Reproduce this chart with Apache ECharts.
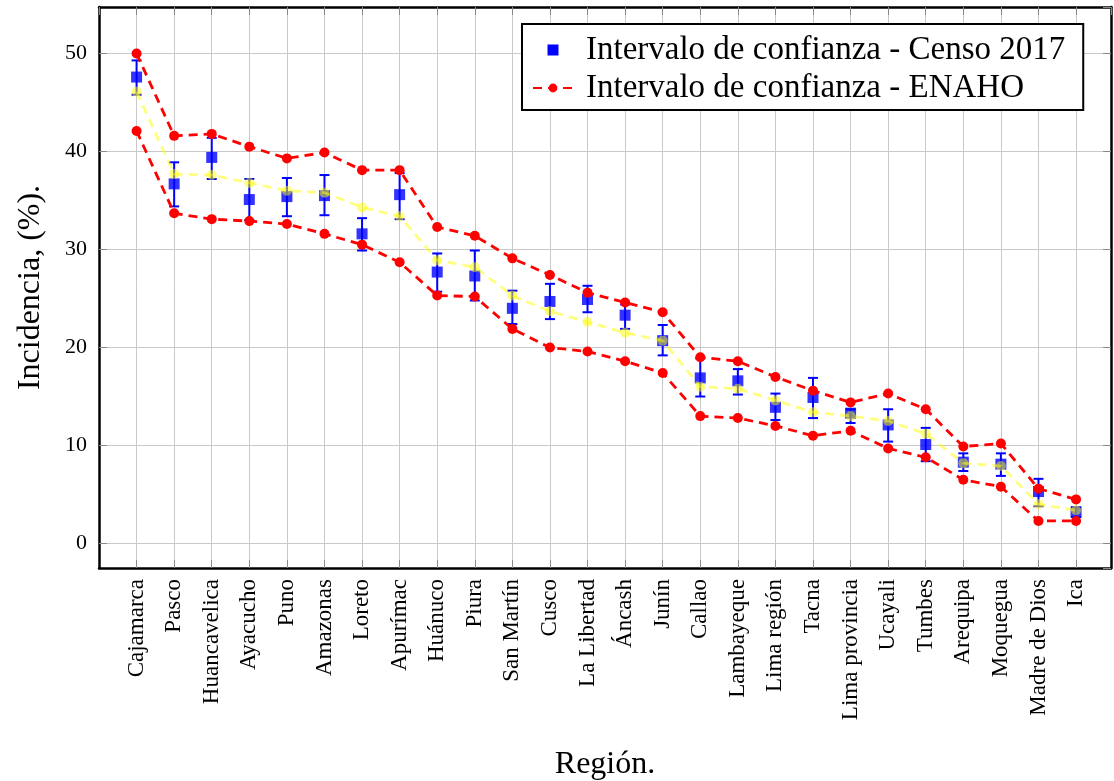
<!DOCTYPE html>
<html>
<head>
<meta charset="utf-8">
<script src="https://cdn.jsdelivr.net/npm/echarts@6/dist/echarts.min.js"></script>
<style>
  html, body { margin: 0; padding: 0; background: #fff; overflow: hidden; }
  #chart { width: 1114px; height: 781px; }
</style>
</head>
<body>
<div id="chart"></div>
<script>
// Regions, ordered by incidence
const categories = ['Cajamarca', 'Pasco', 'Huancavelica', 'Ayacucho', 'Puno', 'Amazonas', 'Loreto',
  'Apurímac', 'Huánuco', 'Piura', 'San Martín', 'Cusco', 'La Libertad', 'Áncash', 'Junín', 'Callao',
  'Lambayeque', 'Lima región', 'Tacna', 'Lima provincia', 'Ucayali', 'Tumbes', 'Arequipa', 'Moquegua',
  'Madre de Dios', 'Ica'];

// Censo 2017: estimate and confidence interval bounds (%)
const censoEst  = [47.6, 36.7, 39.4, 35.1, 35.4, 35.5, 31.6, 35.6, 27.7, 27.3, 24.0, 24.7, 24.9, 23.3, 20.7, 16.9, 16.6, 13.9, 14.9, 13.3, 12.1, 10.1, 8.3, 8.1, 5.3, 3.2];
const censoLow  = [45.8, 34.4, 37.2, 33.0, 33.4, 33.5, 29.9, 33.1, 25.7, 24.8, 22.4, 22.9, 23.6, 21.9, 19.2, 15.0, 15.2, 12.6, 12.8, 12.3, 10.4, 8.4, 7.4, 6.9, 3.8, 2.7];
const censoHigh = [49.3, 38.9, 41.4, 37.2, 37.3, 37.6, 33.2, 37.8, 29.6, 29.9, 25.8, 26.5, 26.3, 24.4, 22.3, 18.9, 17.8, 15.3, 16.9, 13.7, 13.7, 11.8, 9.2, 9.2, 6.6, 3.7];

// ENAHO: point estimate and confidence interval bounds (%)
const enahoEst  = [46.1, 37.7, 37.6, 36.8, 36.0, 35.8, 34.3, 33.4, 28.9, 28.2, 25.3, 23.7, 22.6, 21.5, 20.7, 16.0, 15.8, 14.6, 13.4, 13.0, 12.5, 11.2, 8.2, 7.9, 4.0, 3.4];
const enahoHigh = [50.0, 41.6, 41.8, 40.5, 39.3, 39.9, 38.1, 38.1, 32.3, 31.4, 29.1, 27.4, 25.6, 24.6, 23.6, 19.0, 18.6, 17.0, 15.6, 14.4, 15.3, 13.7, 9.9, 10.2, 5.6, 4.5];
const enahoLow  = [42.1, 33.7, 33.1, 32.9, 32.6, 31.6, 30.5, 28.7, 25.3, 25.2, 21.9, 20.0, 19.6, 18.6, 17.4, 13.0, 12.8, 12.0, 11.0, 11.5, 9.7, 8.8, 6.5, 5.8, 2.3, 2.3];

const NAME_CENSO = 'Intervalo de confianza - Censo 2017';
const NAME_ENAHO = 'Intervalo de confianza - ENAHO';
const FONT = 'Liberation Serif';

const pairs = arr => arr.map((v, i) => [i, v]);
const errData = censoLow.map((lo, i) => [i, lo, censoHigh[i]]);

const chart = echarts.init(document.getElementById('chart'), null, { renderer: 'canvas' });

const tickStyle = { show: true, inside: true, length: 8, lineStyle: { color: '#8a8a8a', width: 1 } };
const frameLine = { show: true, onZero: false, lineStyle: { color: '#000', width: 2.5 } };
const gridLine = { show: true, showMinLine: false, showMaxLine: false, lineStyle: { color: '#c9c9c9', width: 1 } };
const X_MIN = -1, X_MAX = 25.93, Y_MIN = -2.5, Y_MAX = 54.75;

chart.setOption({
  animation: false,
  backgroundColor: '#ffffff',
  textStyle: { fontFamily: FONT },
  grid: { left: 99, top: 7, right: 3, bottom: 213, outerBoundsMode: 'none', containLabel: false },
  legend: {
    orient: 'vertical',
    left: 522, top: 24,
    padding: [7, 18, 3, 10],
    itemWidth: 40, itemHeight: 11, itemGap: 0,
    backgroundColor: '#fff',
    borderColor: '#000', borderWidth: 2,
    selectedMode: false,
    z: 20,
    textStyle: { fontFamily: FONT, fontSize: 33, color: '#000', lineHeight: 38, padding: [0, 0, 0, 8] },
    data: [
      { name: NAME_CENSO, icon: 'path://M0,0L10,0L10,10L0,10Z', itemStyle: { color: '#0000ff' } },
      { name: NAME_ENAHO }
    ]
  },
  xAxis: [{
    type: 'value',
    min: X_MIN, max: X_MAX, interval: 1,
    axisLine: frameLine,
    axisTick: tickStyle,
    splitLine: gridLine,
    axisLabel: {
      rotate: 90, margin: 11, fontSize: 23, color: '#000', fontFamily: FONT,
      showMinLabel: false, showMaxLabel: false,
      formatter: v => (Number.isInteger(v) && categories[v] !== undefined) ? categories[v] : ''
    },
    name: 'Región.', nameLocation: 'middle', nameGap: 181,
    nameTextStyle: { fontFamily: FONT, fontSize: 32, color: '#000' }
  }, {
    type: 'value', position: 'top',
    min: X_MIN, max: X_MAX, interval: 1,
    axisLine: frameLine, axisTick: tickStyle,
    axisLabel: { show: false }, splitLine: { show: false }
  }],
  yAxis: [{
    type: 'value',
    min: Y_MIN, max: Y_MAX, splitNumber: 5,
    axisLine: frameLine,
    axisTick: tickStyle,
    splitLine: gridLine,
    axisLabel: {
      margin: 12, fontSize: 22, color: '#000', fontFamily: FONT,
      showMinLabel: false, showMaxLabel: false
    },
    name: 'Incidencia, (%).', nameLocation: 'middle', nameGap: 52,
    nameTextStyle: { fontFamily: FONT, fontSize: 32, color: '#000' }
  }, {
    type: 'value', position: 'right',
    min: Y_MIN, max: Y_MAX, splitNumber: 5,
    axisLine: frameLine, axisTick: tickStyle,
    axisLabel: { show: false }, splitLine: { show: false }
  }],
  series: [
    {
      // Censo 2017 confidence interval whiskers
      name: NAME_CENSO,
      type: 'custom',
      z: 2,
      data: errData,
      renderItem: (params, api) => {
        const x = api.value(0);
        const top = api.coord([x, api.value(2)]);
        const bot = api.coord([x, api.value(1)]);
        const hw = 5;
        const style = { stroke: '#0000ff', lineWidth: 2 };
        return {
          type: 'group',
          children: [
            { type: 'line', shape: { x1: top[0], y1: top[1], x2: bot[0], y2: bot[1] }, style },
            { type: 'line', shape: { x1: top[0] - hw, y1: top[1], x2: top[0] + hw, y2: top[1] }, style },
            { type: 'line', shape: { x1: bot[0] - hw, y1: bot[1], x2: bot[0] + hw, y2: bot[1] }, style }
          ]
        };
      }
    },
    {
      // Censo 2017 estimate
      name: NAME_CENSO,
      type: 'scatter',
      z: 3,
      symbol: 'rect',
      symbolSize: 11,
      itemStyle: { color: '#0000ff', borderWidth: 0 },
      data: pairs(censoEst)
    },
    {
      // ENAHO point estimate
      name: 'ENAHO',
      type: 'line',
      z: 4,
      symbol: 'circle',
      symbolSize: 10,
      lineStyle: { color: '#ffff00', width: 2.8, type: [9, 6], opacity: 0.5 },
      itemStyle: { color: '#ffff00', opacity: 0.5, borderWidth: 0 },
      data: pairs(enahoEst)
    },
    {
      // ENAHO upper bound
      name: NAME_ENAHO,
      type: 'line',
      z: 5,
      symbol: 'circle',
      symbolSize: 10,
      lineStyle: { color: '#ff0000', width: 2.8, type: [9, 6] },
      itemStyle: { color: '#ff0000', borderWidth: 0 },
      data: pairs(enahoHigh)
    },
    {
      // ENAHO lower bound
      name: NAME_ENAHO,
      type: 'line',
      z: 5,
      symbol: 'circle',
      symbolSize: 10,
      lineStyle: { color: '#ff0000', width: 2.8, type: [9, 6] },
      itemStyle: { color: '#ff0000', borderWidth: 0 },
      data: pairs(enahoLow)
    }
  ]
});
</script>
</body>
</html>
